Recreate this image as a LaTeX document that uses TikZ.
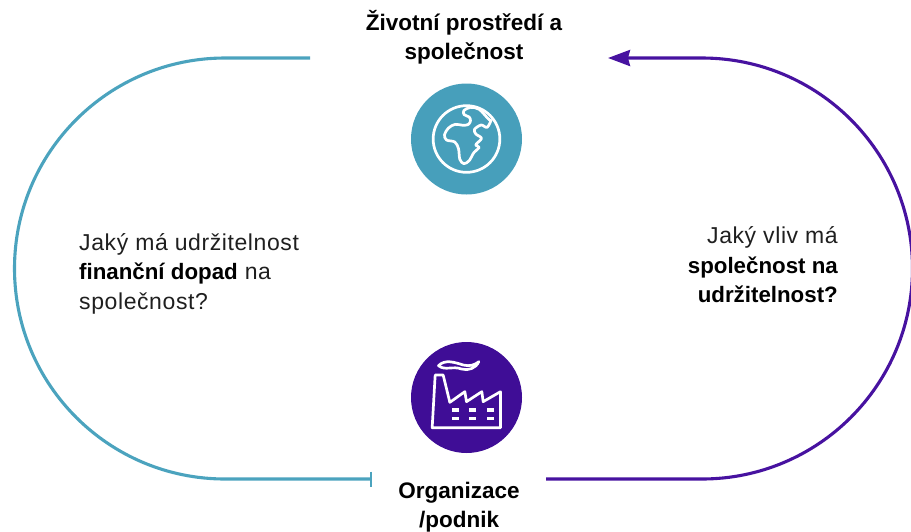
\documentclass[tikz,border=0pt]{standalone}
\usepackage{fontspec}
\setmainfont{Liberation Sans}
\newfontfamily\questionfont[LetterSpace=2.6]{Liberation Sans}
\usetikzlibrary{arrows.meta}
\definecolor{globeteal}{HTML}{479FBB}
\definecolor{factorypurple}{HTML}{3F0D96}
\definecolor{loopteal}{HTML}{4BA3BE}
\definecolor{looppurple}{HTML}{4712A0}
\newcommand{\strongpart}[1]{{\normalfont\fontsize{22.3}{29.5}\selectfont\bfseries\color{black} #1}}
\tikzset{
    loopline/.style={line width=3.1pt},
    iconcircle/.style={circle, minimum size=111pt, inner sep=0pt},
    iconline/.style={white, line width=2.7pt, line join=round},
    plainlabel/.style={font=\questionfont\fontsize{23}{29.5}\selectfont, text=black!88, inner sep=0pt},
    headlabel/.style={plainlabel, align=center, text=black, font=\fontsize{22.5}{29}\selectfont\bfseries}
}
\begin{document}
\begin{tikzpicture}[x=1pt, y=-1pt]
    \useasboundingbox (0,0) rectangle (911,531);
    \clip (0,0) rectangle (911,531);

    \node[iconcircle, fill=globeteal] (globe) at (466.5,139) {};
    \node[iconcircle, fill=factorypurple] (factory) at (466.5,397.5) {};

    \node[headlabel] (nature) at (464,37) {Životní prostředí a\\společnost};
    \node[headlabel] (company) at (459,507) {Organizace\\/podnik};
    \node[plainlabel, align=left, anchor=west] (leftquestion) at (79,273.5)
        {Jaký má udržitelnost\\\strongpart{finanční dopad} na\\společnost?};
    \node[plainlabel, align=right, anchor=east] (rightquestion) at (838,265)
        {Jaký vliv má\\\strongpart{společnost na}\\\strongpart{udržitelnost?}};

    \coordinate (tealstart) at (310,58);
    \coordinate (tealend) at (372,479);
    \coordinate (purplestart) at (546,479);
    \coordinate (purpleend) at (608,58);

    \draw[loopline, loopteal, -{Bar[width=15pt, line width=2pt]}] (tealstart)
        -- (225,58) arc[start angle=270, end angle=90, radius=210.5] -- (tealend);
    \draw[loopline, looppurple, -{Stealth[length=22pt, width=16pt, inset=2pt]}] (purplestart)
        -- (702,479) arc[start angle=90, end angle=-90, radius=210.5] -- (purpleend);

    \begin{scope}[shift={(globe.center)}, x=0.3333pt, y=-0.3333pt, shift={(-200,-207)}]
        \draw[iconline] (200,207) circle[radius=100];
        \draw[iconline] plot[smooth, tension=0.55] coordinates {(275,148) (262,172) (244,165) (224,178)
            (228,192) (245,205) (228,224) (238,232) (222,248) (208,272) (192,281) (180,268) (176,236)
            (165,216) (140,210) (134,194) (146,174) (166,163) (190,166) (206,163) (212,152) (208,141)
            (193,134) (192,122) (212,112) (238,118) (262,143) (272,152)};
    \end{scope}

    \begin{scope}[shift={(factory.center)}, x=0.3333pt, y=-0.3333pt, shift={(-200,-187.5)}]
        \draw[iconline] (97,278) -- (106,120) -- (130,120) -- (150,202) -- (195,170)
            -- (200,200) -- (246,170) -- (250,200) -- (302,170) -- (302,278) -- cycle;
        \draw[iconline] (116,92) .. controls (135,72) and (165,82) .. (190,90)
            .. controls (210,95) and (225,90) .. (237,80) .. controls (228,100) and (205,108) .. (185,102)
            .. controls (160,92) and (135,108) .. (116,92) -- cycle;
        \foreach \rowy in {225,250} {
            \foreach \colx in {157,208,262} {
                \draw[iconline, line width=3.2pt] (\colx,\rowy) -- ++(20,0);
            }
        }
    \end{scope}
\end{tikzpicture}
\end{document}
